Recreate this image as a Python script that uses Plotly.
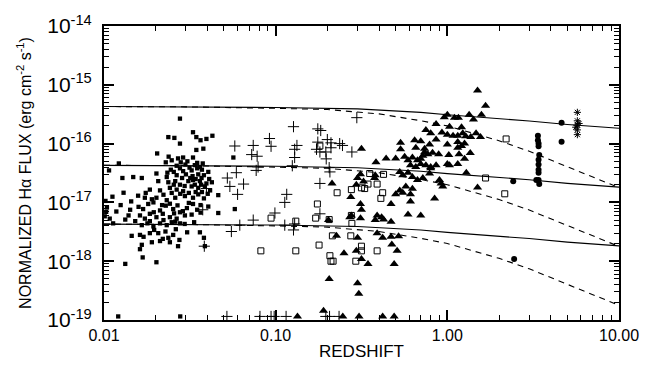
import plotly.graph_objects as go

# ---------------- data ----------------
# filled squares
sq_z = [0.0277, 0.033, 0.0237, 0.0257, 0.0345, 0.0365, 0.0395, 0.0428, 0.0277, 0.0345,
        0.0379, 0.0204, 0.0238, 0.027, 0.0289, 0.033, 0.0229, 0.0248, 0.028, 0.0306,
        0.0349, 0.0376, 0.0122, 0.0107, 0.0202, 0.0234, 0.0255, 0.0277, 0.0289, 0.0324,
        0.0349, 0.0362, 0.0128, 0.0148, 0.0166, 0.0232, 0.0265, 0.030, 0.0328, 0.0354,
        0.0382, 0.0425, 0.0207, 0.0237, 0.026, 0.0277, 0.031, 0.033, 0.0362, 0.0395,
        0.013, 0.0185, 0.0212, 0.0242, 0.0265, 0.0289, 0.0324, 0.0354, 0.0387, 0.0144,
        0.0173, 0.019, 0.0202, 0.0232, 0.026, 0.0296, 0.033, 0.0354, 0.0382, 0.0463,
        0.0567, 0.0102, 0.0104, 0.0103, 0.0159, 0.0169, 0.0181, 0.0194, 0.0212, 0.0229,
        0.0253, 0.0277, 0.0304, 0.033, 0.0349, 0.0463, 0.0578, 0.0142, 0.0139, 0.0133,
        0.0108, 0.0113, 0.0162, 0.0173, 0.0185, 0.0202, 0.022, 0.0242, 0.0265, 0.0296,
        0.0324, 0.0166, 0.0179, 0.0194, 0.0212, 0.0232, 0.026, 0.0277, 0.0145, 0.0162,
        0.017, 0.0185, 0.0207, 0.022, 0.0237, 0.0253, 0.0275, 0.0362, 0.0382, 0.0166,
        0.019, 0.0212, 0.0242, 0.027, 0.0387, 0.0162, 0.0168, 0.0133, 0.0202, 0.0121,
        0.0278,
        0.0265, 0.0298, 0.0315, 0.0338, 0.0372, 0.0405, 0.0245, 0.0285, 0.0318, 0.0342,
        0.037, 0.041, 0.0255, 0.0295, 0.0338, 0.0368, 0.0415, 0.0222, 0.0248, 0.0278,
        0.0312, 0.0342, 0.0372, 0.0402, 0.0175, 0.0158, 0.0218, 0.0242, 0.0268, 0.0312,
        0.0365, 0.0405, 0.0195, 0.0256, 0.0288, 0.0365, 0.0152, 0.0185, 0.0222, 0.0248,
        0.0295, 0.0335, 0.0196, 0.0228, 0.0262, 0.0305, 0.0118, 0.0125, 0.0112, 0.0101]
sq_f = [2.66e-16, 1.56e-16, 1.29e-16, 1.25e-16, 1.29e-16, 1.14e-16, 1.2e-16, 1.36e-16, 1.0e-16, 7.8e-17,
        8.2e-17, 6.8e-17, 6.0e-17, 5.6e-17, 5.8e-17, 5.8e-17, 4.8e-17, 5.2e-17, 4.8e-17, 5.0e-17,
        4.7e-17, 4.6e-17, 4.6e-17, 3.5e-17, 3.1e-17, 3.2e-17, 3.3e-17, 3.8e-17, 3.4e-17, 3.5e-17,
        3.8e-17, 4.0e-17, 2.6e-17, 2.7e-17, 2.6e-17, 2.7e-17, 2.9e-17, 3.0e-17, 2.8e-17, 3.0e-17,
        2.9e-17, 2.2e-17, 2.3e-17, 2.2e-17, 2.3e-17, 2.0e-17, 2.3e-17, 2.4e-17, 2.3e-17, 2.1e-17,
        1.46e-17, 1.65e-17, 1.6e-17, 1.77e-17, 1.65e-17, 1.55e-17, 1.87e-17, 1.77e-17, 1.87e-17, 1.04e-17,
        1.2e-17, 1.13e-17, 1.2e-17, 1.09e-17, 1.2e-17, 1.28e-17, 1.2e-17, 1.37e-17, 1.17e-17, 1.33e-17,
        5.8e-17, 1.06e-17, 8.2e-18, 6.9e-18, 8.4e-18, 7.7e-18, 9.4e-18, 1.0e-17, 7.3e-18, 8.8e-18,
        7.7e-18, 6.8e-18, 8.0e-18, 9.4e-18, 7.5e-18, 6.6e-18, 7.7e-18, 7.5e-18, 6.0e-18, 5.1e-18,
        5.3e-18, 4.4e-18, 6.0e-18, 5.3e-18, 6.4e-18, 5.6e-18, 6.4e-18, 5.6e-18, 5.3e-18, 6.0e-18,
        6.2e-18, 4.1e-18, 4.4e-18, 3.9e-18, 4.4e-18, 4.1e-18, 4.7e-18, 4.4e-18, 2.7e-18, 2.8e-18,
        2.6e-18, 3.0e-18, 3.0e-18, 2.4e-18, 2.5e-18, 2.8e-18, 2.3e-18, 3.1e-18, 2.5e-18, 1.9e-18,
        2.1e-18, 2.2e-18, 2.1e-18, 1.8e-18, 1.8e-18, 1.6e-18, 1.16e-18, 9.0e-19, 9.6e-19, 1.15e-19,
        1.15e-19,
        4.2e-17, 4.4e-17, 3.9e-17, 4.3e-17, 3.6e-17, 3.3e-17, 3.6e-17, 2.6e-17, 2.6e-17, 2.5e-17,
        2.6e-17, 2.5e-17, 2.0e-17, 1.9e-17, 2.0e-17, 2.0e-17, 1.6e-17, 1.35e-17, 1.45e-17, 1.4e-17,
        1.45e-17, 1.5e-17, 1.5e-17, 1.4e-17, 1.45e-17, 1.3e-17, 9.0e-18, 9.5e-18, 8.9e-18, 9.8e-18,
        9.0e-18, 8.5e-18, 6.8e-18, 6.5e-18, 7.1e-18, 6.7e-18, 4.8e-18, 4.8e-18, 5.0e-18, 4.6e-18,
        4.3e-18, 4.6e-18, 3.4e-18, 3.2e-18, 3.5e-18, 3.1e-18, 7.0e-18, 9.0e-18, 1.25e-17, 5.8e-18]

# plus signs
pl_z = [0.0578, 0.074, 0.0725, 0.078, 0.0523, 0.0541, 0.065, 0.06, 0.0395, 0.0376,
        0.074, 0.0618, 0.0552, 0.0384, 0.297, 0.127, 0.176, 0.183, 0.092, 0.094,
        0.133, 0.129, 0.176, 0.2, 0.21, 0.236, 0.245, 0.173, 0.181, 0.196,
        0.21, 0.129, 0.197, 0.278, 0.079, 0.077, 0.125, 0.205, 0.181, 0.116,
        0.113, 0.099, 0.181, 0.129, 0.127, 0.113, 0.059, 0.207,
        0.052, 0.081, 0.094, 0.098, 0.115, 0.196, 0.206, 0.234]
pl_f = [9.1e-17, 9.3e-17, 6.5e-17, 6.1e-17, 2.6e-17, 1.87e-17, 2.05e-17, 1.37e-17, 1.72e-17, 7.5e-18,
        5.0e-18, 4.1e-18, 3.2e-18, 1.8e-18, 2.76e-16, 1.94e-16, 1.78e-16, 1.67e-16, 1.22e-16, 9.0e-17,
        9.3e-17, 8.0e-17, 1.06e-16, 1.17e-16, 1.03e-16, 1.0e-16, 9.3e-17, 8.0e-17, 7.2e-17, 7.2e-17,
        8.5e-17, 5.8e-17, 5.5e-17, 7.2e-17, 4.0e-17, 3.5e-17, 4.2e-17, 3.9e-17, 2.1e-17, 1.37e-17,
        1.0e-17, 6.6e-18, 6.4e-18, 4.3e-18, 3.4e-18, 4.1e-18, 3.2e-17, 3.3e-17,
        1.15e-19, 1.15e-19, 1.15e-19, 1.15e-19, 1.15e-19, 1.15e-19, 1.15e-19, 1.15e-19]

# open squares
os_z = [0.181, 0.353, 0.425, 0.345, 0.39, 0.228, 0.276, 0.316, 0.33, 0.42,
        0.41, 0.175, 0.094, 0.171, 0.131, 0.205, 0.276, 0.278, 0.214, 0.274,
        0.179, 0.316, 0.082, 0.131, 0.207, 0.21, 0.216, 0.293, 0.39, 0.316,
        2.2, 1.67, 2.16]
os_f = [9.1e-17, 3.1e-17, 3.0e-17, 2.05e-17, 2.05e-17, 1.46e-17, 1.65e-17, 1.77e-17, 1.72e-17, 1.46e-17,
        1.17e-17, 9.4e-18, 5.4e-18, 5.4e-18, 4.8e-18, 5.1e-18, 6.0e-18, 4.4e-18, 2.7e-18, 2.7e-18,
        1.88e-18, 1.8e-18, 1.5e-18, 1.5e-18, 1.24e-18, 1.0e-18, 1.0e-18, 1.0e-18, 1.5e-18, 1.5e-18,
        1.2e-16, 2.6e-17, 1.4e-17]

# filled triangles
tr_z = [0.316, 0.384, 0.44, 0.5, 0.534, 0.534, 0.564, 0.59, 0.645, 0.7,
        0.655, 0.737, 0.788, 0.86, 0.626, 0.67, 0.72, 0.77, 0.82, 0.89,
        0.61, 0.655, 0.7, 0.75, 0.8, 0.86, 0.528, 0.55, 0.59, 0.626,
        0.67, 0.72, 0.788, 0.312, 0.3, 0.325, 0.295, 0.38, 0.377, 0.213,
        0.528, 0.5, 0.55, 0.61, 0.573, 0.626, 0.274, 0.843, 0.61, 0.47,
        0.312, 0.316, 0.312, 0.276, 0.27, 0.39, 0.414, 0.425, 0.38, 0.59,
        0.7, 0.47, 0.203, 0.226, 0.3, 0.39, 0.42, 0.47, 0.52, 0.475,
        0.51, 0.25, 0.295, 0.316, 0.345, 0.49, 0.205, 0.3, 0.305, 0.19,
        0.134, 0.246, 0.306, 0.42, 0.49,
        1.5, 1.67, 1.58, 1.34, 0.96, 1.0, 1.1, 1.16, 1.42, 1.03,
        1.21, 0.86, 0.75, 0.8, 0.93, 1.0, 1.08, 1.15, 1.23, 1.28,
        1.37, 1.47, 1.56, 1.0, 1.15, 1.21, 1.26, 0.737, 1.02, 1.15,
        1.17, 1.26, 1.36, 0.7, 0.8, 1.0, 1.03, 1.15, 1.29, 0.9,
        0.92, 0.94, 1.5]
tr_f = [8.2e-17, 4.8e-17, 5.6e-17, 5.6e-17, 1.03e-16, 8.0e-17, 6.0e-17, 5.2e-17, 1.14e-16, 1.1e-16,
        8.5e-17, 8.2e-17, 9.7e-17, 1.17e-16, 5.8e-17, 5.2e-17, 6.2e-17, 6.6e-17, 7.0e-17, 6.6e-17,
        4.3e-17, 4.0e-17, 4.5e-17, 4.3e-17, 4.0e-17, 4.3e-17, 3.3e-17, 2.9e-17, 3.2e-17, 2.7e-17,
        2.4e-17, 2.6e-17, 3.1e-17, 3.0e-17, 2.6e-17, 2.26e-17, 2.0e-17, 2.9e-17, 2.6e-17, 2.1e-17,
        1.6e-17, 1.37e-17, 1.46e-17, 1.37e-17, 1.87e-17, 1.71e-17, 1.23e-17, 1.17e-17, 1.04e-17, 9.4e-18,
        9.4e-18, 7.5e-18, 5.4e-18, 6.0e-18, 5.6e-18, 6.0e-18, 5.6e-18, 5.1e-18, 5.0e-18, 6.2e-18,
        6.0e-18, 4.7e-18, 5.0e-18, 2.7e-18, 2.5e-18, 3.0e-18, 2.5e-18, 2.6e-18, 2.65e-18, 1.93e-18,
        1.5e-18, 1.37e-18, 1.5e-18, 1.09e-18, 9.0e-19, 9.0e-19, 5.0e-19, 4.2e-19, 2.8e-19, 1.43e-19,
        1.15e-19, 1.15e-19, 1.15e-19, 1.15e-19, 1.15e-19,
        8.0e-16, 4.4e-16, 3.1e-16, 3.1e-16, 2.8e-16, 3.1e-16, 2.76e-16, 2.76e-16, 2.56e-16, 1.94e-16,
        1.9e-16, 2.15e-16, 1.71e-16, 1.5e-16, 1.55e-16, 1.42e-16, 1.36e-16, 1.36e-16, 1.5e-16, 1.33e-16,
        1.29e-16, 1.5e-16, 1.29e-16, 9.7e-17, 1.06e-16, 9.1e-17, 1.0e-16, 7.1e-17, 6.4e-17, 8.5e-17,
        6.6e-17, 5.5e-17, 6.9e-17, 5.5e-17, 3.8e-17, 4.5e-17, 4.3e-17, 4.5e-17, 3.2e-17, 2.4e-17,
        2.1e-17, 1.87e-17, 1.8e-17]

# filled circles
ci_z = [4.63, 4.63, 3.37, 3.37, 3.4, 3.4, 3.43, 3.4, 3.4, 3.4, 3.4, 3.4, 3.43, 3.3, 2.42, 2.45]
ci_f = [2.26e-16, 1.07e-16, 1.36e-16, 1.14e-16, 1.0e-16, 9.0e-17, 6.4e-17, 5.3e-17, 4.4e-17, 3.6e-17,
        3.2e-17, 2.4e-17, 2.05e-17, 2.4e-17, 2.3e-17, 1.09e-18]

# asterisks
as_z = [5.72, 5.72, 5.72, 5.72, 5.72, 5.85, 5.6]
as_f = [3.4e-16, 2.44e-16, 2.07e-16, 1.71e-16, 1.42e-16, 2.2e-16, 1.9e-16]

# model curves
solid_z = [0.01, 0.03, 0.1, 0.3, 0.7, 1.0, 2.0, 3.0, 5.0, 7.0, 10.0]
solid_hi = [4.27e-16, 4.22e-16, 4.12e-16, 3.89e-16, 3.39e-16, 3.09e-16, 2.69e-16, 2.43e-16, 2.11e-16, 1.95e-16, 1.82e-16]
solid_mid = [4.27e-17, 4.22e-17, 4.12e-17, 3.89e-17, 3.39e-17, 3.09e-17, 2.69e-17, 2.43e-17, 2.11e-17, 1.95e-17, 1.82e-17]
solid_lo = [4.27e-18, 4.22e-18, 4.12e-18, 3.89e-18, 3.39e-18, 3.09e-18, 2.69e-18, 2.43e-18, 2.11e-18, 1.95e-18, 1.82e-18]
dash_z = [0.01, 0.03, 0.1, 0.2, 0.4, 0.7, 1.0, 1.5, 2.0, 3.0, 5.0, 7.0, 10.0]
dash_hi = [4.27e-16, 4.22e-16, 3.98e-16, 3.80e-16, 3.20e-16, 2.45e-16, 2.00e-16, 1.45e-16, 1.12e-16, 7.41e-17, 4.07e-17, 2.69e-17, 1.78e-17]
dash_mid = [4.27e-17, 4.22e-17, 3.98e-17, 3.80e-17, 3.20e-17, 2.45e-17, 2.00e-17, 1.45e-17, 1.12e-17, 7.41e-18, 4.07e-18, 2.69e-18, 1.78e-18]
dash_lo = [4.27e-18, 4.22e-18, 3.98e-18, 3.80e-18, 3.20e-18, 2.45e-18, 2.00e-18, 1.45e-18, 1.12e-18, 7.41e-19, 4.07e-19, 2.69e-19, 1.78e-19]

x_tickvals = [0.01, 0.1, 1, 10]
x_ticktext = ["0.01", "0.10", "1.00", "10.00"]
y_tickvals = [1e-19, 1e-18, 1e-17, 1e-16, 1e-15, 1e-14]
y_ticktext = ["10<sup>-19</sup>", "10<sup>-18</sup>", "10<sup>-17</sup>",
              "10<sup>-16</sup>", "10<sup>-15</sup>", "10<sup>-14</sup>"]

# ---------------- figure ----------------
fig = go.Figure()

for yy in (solid_hi, solid_mid, solid_lo):
    fig.add_trace(go.Scatter(x=solid_z, y=yy, mode="lines",
                             line=dict(color="black", width=1.1), hoverinfo="skip"))
for yy in (dash_hi, dash_mid, dash_lo):
    fig.add_trace(go.Scatter(x=dash_z, y=yy, mode="lines",
                             line=dict(color="black", width=1.1, dash="6px,5px"), hoverinfo="skip"))

fig.add_trace(go.Scatter(x=sq_z, y=sq_f, mode="markers",
                         marker=dict(symbol="square", size=4.3, color="black", line=dict(width=0))))
fig.add_trace(go.Scatter(x=pl_z, y=pl_f, mode="markers",
                         marker=dict(symbol="cross-thin-open", size=8, color="black",
                                     line=dict(width=1, color="black"))))
fig.add_trace(go.Scatter(x=os_z, y=os_f, mode="markers",
                         marker=dict(symbol="square-open", size=6, color="black",
                                     line=dict(width=1, color="black"))))
fig.add_trace(go.Scatter(x=tr_z, y=tr_f, mode="markers",
                         marker=dict(symbol="triangle-up", size=8, color="black", line=dict(width=0))))
fig.add_trace(go.Scatter(x=ci_z, y=ci_f, mode="markers",
                         marker=dict(symbol="circle", size=6, color="black", line=dict(width=0))))
fig.add_trace(go.Scatter(x=as_z, y=as_f, mode="markers",
                         marker=dict(symbol="asterisk-open", size=6, color="black",
                                     line=dict(width=1, color="black"))))

font_family = "Liberation Sans, Arial, Helvetica, sans-serif"
fig.update_layout(
    width=654, height=370,
    margin=dict(l=104, r=35, t=16, b=50),
    paper_bgcolor="white", plot_bgcolor="white",
    showlegend=False,
    font=dict(family=font_family, color="black", size=16),
)
fig.update_xaxes(
    type="log", range=[-2, 1],
    tickmode="array", tickvals=x_tickvals, ticktext=x_ticktext,
    ticks="inside", ticklen=10, tickwidth=1.5, tickcolor="black",
    minor=dict(ticks="inside", ticklen=5, tickwidth=1.3, tickcolor="black",
               tickmode="linear", dtick="D1", showgrid=False),
    showline=True, linecolor="black", linewidth=2, mirror="ticks",
    showgrid=False, zeroline=False,
    tickfont=dict(size=16),
    title=dict(text="REDSHIFT", font=dict(size=17), standoff=2),
)
fig.update_yaxes(
    type="log", range=[-19, -14],
    tickmode="array", tickvals=y_tickvals, ticktext=y_ticktext,
    ticks="inside", ticklen=10, tickwidth=1.5, tickcolor="black",
    ticklabelstandoff=6,
    minor=dict(ticks="inside", ticklen=5, tickwidth=1.3, tickcolor="black",
               tickmode="linear", dtick="D1", showgrid=False),
    showline=True, linecolor="black", linewidth=2, mirror="ticks",
    showgrid=False, zeroline=False,
    tickfont=dict(size=21),
    title=dict(text="NORMALIZED H\u03b1 FLUX (erg cm<sup>-2</sup> s<sup>-1</sup>)",
               font=dict(size=16), standoff=12),
)

fig.write_html("out.html")
